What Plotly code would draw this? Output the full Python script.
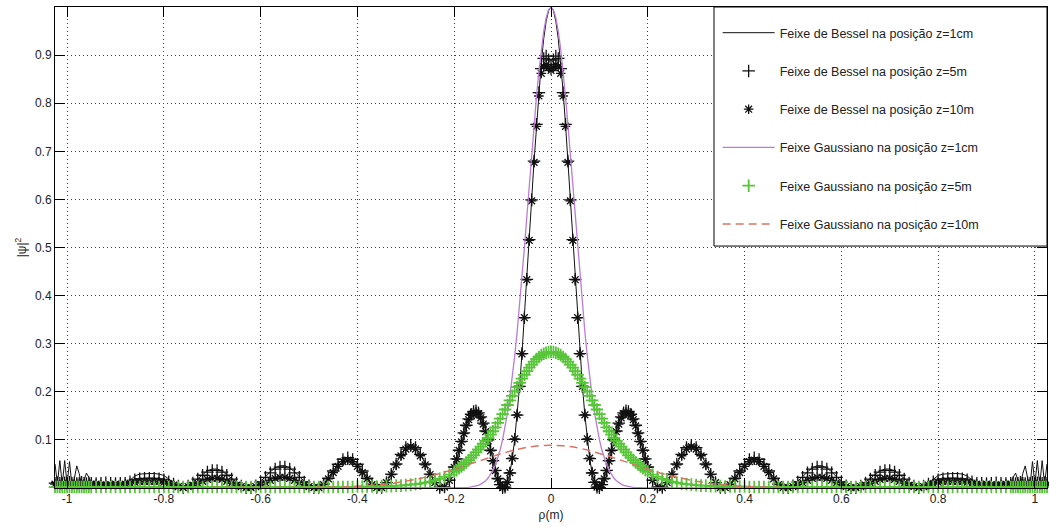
import numpy as np
import plotly.graph_objects as go

# ---------------- sampling positions rho (m) ----------------
_half = np.round(np.concatenate([np.arange(0, 0.2001, 0.005),
                                 np.arange(0.21, 0.9401, 0.01),
                                 np.arange(0.95, 1.0251, 0.005)]), 3)
RHO = np.concatenate([-_half[:0:-1], _half])

_vh = np.round(np.concatenate([np.arange(0, 0.2001, 0.005), [0.3, 0.6, 1.025]]), 3)
RHO_V = np.concatenate([-_vh[:0:-1], _vh])

_dh = np.round(np.concatenate([np.arange(0, 0.5001, 0.025), [0.6, 0.7, 0.8, 0.9, 1.025]]), 3)
RHO_D = np.concatenate([-_dh[:0:-1], _dh])

# ---------------- values ----------------
BESSEL_Z1CM = [
    0.050, 0.008, 0.057, 0.006, 0.057, 0.008, 0.055, 0.005, 0.020, 0.046, 0.030, 0.006, 0.016, 0.031, 0.022, 0.010,
    0.0080, 0.0060, 0.0050, 0.0060,
    0.0070, 0.0060, 0.0080, 0.0160, 0.0250, 0.0290, 0.0300, 0.0300, 0.0300, 0.0290,
    0.0260, 0.0190, 0.0100, 0.0030, 0.0005, 0.0044, 0.0113, 0.0200, 0.0287, 0.0356,
    0.0395, 0.0395, 0.0356, 0.0287, 0.0200, 0.0113, 0.0044, 0.0005, 0.0006, 0.0051,
    0.0133, 0.0235, 0.0337, 0.0419, 0.0464, 0.0464, 0.0419, 0.0337, 0.0235, 0.0133,
    0.0051, 0.0006, 0.0009, 0.0080, 0.0207, 0.0359, 0.0502, 0.0603, 0.0640, 0.0603,
    0.0502, 0.0359, 0.0207, 0.0080, 0.0009, 0.0013, 0.0113, 0.0290, 0.0504, 0.0706,
    0.0848, 0.0900, 0.0848, 0.0706, 0.0504, 0.0290, 0.0113, 0.0013, 0.0020, 0.0166,
    0.0440, 0.0610, 0.0792, 0.0977, 0.1157, 0.1318, 0.1450, 0.1549, 0.1607, 0.1621,
    0.1579, 0.1492, 0.1362, 0.1196, 0.1000, 0.0785, 0.0569, 0.0368, 0.0197, 0.0070,
    0.0005, 0.0017, 0.0116, 0.0312, 0.0610, 0.1012, 0.1516, 0.2113, 0.2793, 0.3541,
    0.4337, 0.5162, 0.5990, 0.6797, 0.7559, 0.8252, 0.8853, 0.9342, 0.9703, 0.9925,
    1.000,
    0.9925, 0.9703, 0.9342, 0.8853, 0.8252, 0.7559, 0.6797, 0.5990, 0.5162,
    0.4337, 0.3541, 0.2793, 0.2113, 0.1516, 0.1012, 0.0610, 0.0312, 0.0116, 0.0017,
    0.0005, 0.0070, 0.0197, 0.0368, 0.0569, 0.0785, 0.1000, 0.1196, 0.1362, 0.1492,
    0.1579, 0.1621, 0.1607, 0.1549, 0.1450, 0.1318, 0.1157, 0.0977, 0.0792, 0.0610,
    0.0440,
    0.0166, 0.0020, 0.0013, 0.0113, 0.0290, 0.0504, 0.0706, 0.0848, 0.0900, 0.0848,
    0.0706, 0.0504, 0.0290, 0.0113, 0.0013, 0.0009, 0.0080, 0.0207, 0.0359, 0.0502,
    0.0603, 0.0640, 0.0603, 0.0502, 0.0359, 0.0207, 0.0080, 0.0009, 0.0006, 0.0051,
    0.0133, 0.0235, 0.0337, 0.0419, 0.0464, 0.0464, 0.0419, 0.0337, 0.0235, 0.0133,
    0.0051, 0.0006, 0.0005, 0.0044, 0.0113, 0.0200, 0.0287, 0.0356, 0.0395, 0.0395,
    0.0356, 0.0287, 0.0200, 0.0113, 0.0044, 0.0005, 0.0030, 0.0100, 0.0190, 0.0260,
    0.0290, 0.0300, 0.0300, 0.0300, 0.0290, 0.0250, 0.0160, 0.0080, 0.0060, 0.0070,
    0.0060, 0.0050, 0.0060, 0.0080,
    0.010, 0.022, 0.031, 0.016, 0.006, 0.030, 0.046, 0.020, 0.005, 0.055, 0.008, 0.057, 0.006, 0.057, 0.008, 0.050,
]

BESSEL_Z5M = [
    0.010, 0.011, 0.010, 0.009, 0.011, 0.010, 0.012, 0.010, 0.011, 0.009, 0.010, 0.012, 0.010, 0.009, 0.011, 0.010,
    0.0090, 0.0100, 0.0110, 0.0100,
    0.0090, 0.0100, 0.0100, 0.0130, 0.0170, 0.0190, 0.0200, 0.0200, 0.0200, 0.0190,
    0.0170, 0.0130, 0.0080, 0.0040, 0.0005, 0.0040, 0.0105, 0.0185, 0.0265, 0.0330,
    0.0365, 0.0365, 0.0330, 0.0265, 0.0185, 0.0105, 0.0040, 0.0005, 0.0006, 0.0048,
    0.0125, 0.0220, 0.0315, 0.0392, 0.0434, 0.0434, 0.0392, 0.0315, 0.0220, 0.0125,
    0.0048, 0.0006, 0.0009, 0.0079, 0.0203, 0.0353, 0.0494, 0.0594, 0.0630, 0.0594,
    0.0494, 0.0353, 0.0203, 0.0079, 0.0009, 0.0013, 0.0112, 0.0287, 0.0499, 0.0698,
    0.0839, 0.0890, 0.0839, 0.0698, 0.0499, 0.0287, 0.0112, 0.0013, 0.0020, 0.0164,
    0.0437, 0.0605, 0.0785, 0.0968, 0.1146, 0.1305, 0.1436, 0.1533, 0.1590, 0.1603,
    0.1563, 0.1478, 0.1350, 0.1185, 0.1000, 0.0785, 0.0569, 0.0368, 0.0197, 0.0070,
    0.0005, 0.0017, 0.0116, 0.0312, 0.0610, 0.1012, 0.1516, 0.2113, 0.2793, 0.3541,
    0.4337, 0.5162, 0.5990, 0.6797, 0.7559, 0.822, 0.872, 0.893, 0.898, 0.890,
    0.880,
    0.890, 0.898, 0.893, 0.872, 0.822, 0.7559, 0.6797, 0.5990, 0.5162,
    0.4337, 0.3541, 0.2793, 0.2113, 0.1516, 0.1012, 0.0610, 0.0312, 0.0116, 0.0017,
    0.0005, 0.0070, 0.0197, 0.0368, 0.0569, 0.0785, 0.1000, 0.1185, 0.1350, 0.1478,
    0.1563, 0.1603, 0.1590, 0.1533, 0.1436, 0.1305, 0.1146, 0.0968, 0.0785, 0.0605,
    0.0437,
    0.0164, 0.0020, 0.0013, 0.0112, 0.0287, 0.0499, 0.0698, 0.0839, 0.0890, 0.0839,
    0.0698, 0.0499, 0.0287, 0.0112, 0.0013, 0.0009, 0.0079, 0.0203, 0.0353, 0.0494,
    0.0594, 0.0630, 0.0594, 0.0494, 0.0353, 0.0203, 0.0079, 0.0009, 0.0006, 0.0048,
    0.0125, 0.0220, 0.0315, 0.0392, 0.0434, 0.0434, 0.0392, 0.0315, 0.0220, 0.0125,
    0.0048, 0.0006, 0.0005, 0.0040, 0.0105, 0.0185, 0.0265, 0.0330, 0.0365, 0.0365,
    0.0330, 0.0265, 0.0185, 0.0105, 0.0040, 0.0005, 0.0040, 0.0080, 0.0130, 0.0170,
    0.0190, 0.0200, 0.0200, 0.0200, 0.0190, 0.0170, 0.0130, 0.0100, 0.0100, 0.0090,
    0.0100, 0.0110, 0.0100, 0.0090,
    0.010, 0.011, 0.009, 0.010, 0.012, 0.010, 0.009, 0.011, 0.010, 0.012, 0.010, 0.011, 0.009, 0.010, 0.011, 0.010,
]

BESSEL_Z10M = [
    0.008, 0.008, 0.007, 0.009, 0.008, 0.007, 0.009, 0.008, 0.007, 0.009, 0.008, 0.007, 0.008, 0.009, 0.007, 0.008,
    0.008, 0.007, 0.006, 0.007,
    0.008, 0.007, 0.008, 0.010, 0.012, 0.013, 0.014, 0.014, 0.014, 0.013,
    0.012, 0.009, 0.006, 0.003, 0.001, 0.003, 0.006, 0.010, 0.014, 0.018,
    0.020, 0.020, 0.018, 0.014, 0.010, 0.006, 0.003, 0.001, 0.001, 0.003,
    0.007, 0.011, 0.016, 0.020, 0.022, 0.022, 0.020, 0.016, 0.011, 0.007,
    0.003, 0.001, 0.001, 0.007, 0.019, 0.032, 0.045, 0.055, 0.058, 0.055,
    0.045, 0.032, 0.019, 0.007, 0.001, 0.001, 0.011, 0.028, 0.048, 0.067,
    0.081, 0.086, 0.081, 0.067, 0.048, 0.028, 0.011, 0.001, 0.002, 0.016,
    0.043, 0.060, 0.078, 0.096, 0.113, 0.129, 0.142, 0.151, 0.157, 0.158,
    0.154, 0.146, 0.133, 0.117, 0.098, 0.077, 0.056, 0.036, 0.019, 0.007,
    0.001, 0.002, 0.012, 0.032, 0.062, 0.102, 0.152, 0.211, 0.279, 0.354,
    0.433, 0.515, 0.597, 0.677, 0.752, 0.815, 0.862, 0.876, 0.880, 0.874,
    0.868,
    0.874, 0.880, 0.876, 0.862, 0.815, 0.752, 0.677, 0.597, 0.515,
    0.433, 0.354, 0.279, 0.211, 0.152, 0.102, 0.062, 0.032, 0.012, 0.002,
    0.001, 0.007, 0.019, 0.036, 0.056, 0.077, 0.098, 0.117, 0.133, 0.146,
    0.154, 0.158, 0.157, 0.151, 0.142, 0.129, 0.113, 0.096, 0.078, 0.060,
    0.043,
    0.016, 0.002, 0.001, 0.011, 0.028, 0.048, 0.067, 0.081, 0.086, 0.081,
    0.067, 0.048, 0.028, 0.011, 0.001, 0.001, 0.007, 0.019, 0.032, 0.045,
    0.055, 0.058, 0.055, 0.045, 0.032, 0.019, 0.007, 0.001, 0.001, 0.003,
    0.007, 0.011, 0.016, 0.020, 0.022, 0.022, 0.020, 0.016, 0.011, 0.007,
    0.003, 0.001, 0.001, 0.003, 0.006, 0.010, 0.014, 0.018, 0.020, 0.020,
    0.018, 0.014, 0.010, 0.006, 0.003, 0.001, 0.003, 0.006, 0.009, 0.012,
    0.013, 0.014, 0.014, 0.014, 0.013, 0.012, 0.010, 0.008, 0.007, 0.008,
    0.007, 0.006, 0.007, 0.008,
    0.008, 0.007, 0.009, 0.008, 0.007, 0.008, 0.009, 0.007, 0.008, 0.009, 0.007, 0.008, 0.009, 0.007, 0.008, 0.008,
]

GAUSS_Z5M = [
    0.002, 0.002, 0.002, 0.002, 0.002, 0.002, 0.002, 0.002, 0.002, 0.002,
    0.002, 0.002, 0.002, 0.002, 0.002, 0.002, 0.002, 0.002, 0.002, 0.002,
    0.002, 0.002, 0.002, 0.002, 0.002, 0.002, 0.002, 0.002, 0.002, 0.002,
    0.002, 0.002, 0.002, 0.002, 0.002, 0.002, 0.002, 0.002, 0.002, 0.002,
    0.002, 0.002, 0.002, 0.002, 0.002, 0.002, 0.002, 0.002, 0.002, 0.002,
    0.002, 0.002, 0.002, 0.002, 0.002, 0.002, 0.002, 0.002, 0.002, 0.002,
    0.002, 0.002, 0.002, 0.002, 0.002, 0.002, 0.002, 0.002, 0.002, 0.002,
    0.003, 0.003, 0.003, 0.003, 0.003, 0.004, 0.004, 0.004, 0.005, 0.005,
    0.006, 0.007, 0.008, 0.009, 0.011, 0.013, 0.016, 0.019, 0.023, 0.028,
    0.034, 0.037, 0.041, 0.045, 0.049, 0.053, 0.058, 0.063, 0.068, 0.074,
    0.080, 0.086, 0.092, 0.098, 0.104, 0.111, 0.118, 0.1262, 0.1352, 0.1444,
    0.1537, 0.1632, 0.1726, 0.1821, 0.1915, 0.2008, 0.2098, 0.2187, 0.2272, 0.2353,
    0.2430, 0.2501, 0.2567, 0.2626, 0.2679, 0.2724, 0.2762, 0.2791, 0.2813, 0.2826,
    0.283,
    0.2826, 0.2813, 0.2791, 0.2762, 0.2724, 0.2679, 0.2626, 0.2567, 0.2501, 0.2430,
    0.2353, 0.2272, 0.2187, 0.2098, 0.2008, 0.1915, 0.1821, 0.1726, 0.1632, 0.1537,
    0.1444, 0.1352, 0.1262, 0.118, 0.111, 0.104, 0.098, 0.092, 0.086, 0.080,
    0.074, 0.068, 0.063, 0.058, 0.053, 0.049, 0.045, 0.041, 0.037, 0.034,
    0.028, 0.023, 0.019, 0.016, 0.013, 0.011, 0.009, 0.008, 0.007, 0.006,
    0.005, 0.005, 0.004, 0.004, 0.004, 0.003, 0.003, 0.003, 0.003, 0.003,
    0.002, 0.002, 0.002, 0.002, 0.002, 0.002, 0.002, 0.002, 0.002, 0.002,
    0.002, 0.002, 0.002, 0.002, 0.002, 0.002, 0.002, 0.002, 0.002, 0.002,
    0.002, 0.002, 0.002, 0.002, 0.002, 0.002, 0.002, 0.002, 0.002, 0.002,
    0.002, 0.002, 0.002, 0.002, 0.002, 0.002, 0.002, 0.002, 0.002, 0.002,
    0.002, 0.002, 0.002, 0.002, 0.002, 0.002, 0.002, 0.002, 0.002, 0.002,
    0.002, 0.002, 0.002, 0.002, 0.002, 0.002, 0.002, 0.002, 0.002, 0.002,
    0.002, 0.002, 0.002, 0.002, 0.002, 0.002, 0.002, 0.002, 0.002, 0.002,
]

GAUSS_Z1CM = [
    0.0, 0.0, 0.0,
    0.0004, 0.0005, 0.0006, 0.0008, 0.0010, 0.0012, 0.0015, 0.0022, 0.0030, 0.0040,
    0.0057, 0.0080, 0.0111, 0.0152, 0.0207, 0.0277, 0.0367, 0.0480, 0.0622, 0.0796,
    0.1007, 0.1260, 0.1557, 0.1904, 0.2301, 0.2749, 0.3247, 0.3791, 0.4376, 0.4994,
    0.5633, 0.6282, 0.6926, 0.7549, 0.8133, 0.8663, 0.9123, 0.9497, 0.9773, 0.9943,
    1.0,
    0.9943, 0.9773, 0.9497, 0.9123, 0.8663, 0.8133, 0.7549, 0.6926, 0.6282, 0.5633,
    0.4994, 0.4376, 0.3791, 0.3247, 0.2749, 0.2301, 0.1904, 0.1557, 0.1260, 0.1007,
    0.0796, 0.0622, 0.0480, 0.0367, 0.0277, 0.0207, 0.0152, 0.0111, 0.0080, 0.0057,
    0.0040, 0.0030, 0.0022, 0.0015, 0.0012, 0.0010, 0.0008, 0.0006, 0.0005, 0.0004,
    0.0, 0.0, 0.0,
]

GAUSS_Z10M = [
    0.0, 0.0, 0.0, 0.0001, 0.0002, 0.0005, 0.0008, 0.0014, 0.0021, 0.0033, 0.0049, 0.0071, 0.0100,
    0.0139, 0.0187, 0.0245, 0.0313, 0.0389, 0.0473, 0.0559, 0.0644, 0.0724, 0.0792, 0.0845, 0.0879,
    0.0890,
    0.0879, 0.0845, 0.0792, 0.0724, 0.0644, 0.0559, 0.0473, 0.0389, 0.0313, 0.0245, 0.0187, 0.0139,
    0.0100, 0.0071, 0.0049, 0.0033, 0.0021, 0.0014, 0.0008, 0.0005, 0.0002, 0.0001, 0.0, 0.0, 0.0,
]

X_TICKS = [-1, -0.8, -0.6, -0.4, -0.2, 0, 0.2, 0.4, 0.6, 0.8, 1]
X_TICK_LABELS = ["-1", "-0.8", "-0.6", "-0.4", "-0.2", "0", "0.2", "0.4", "0.6", "0.8", "1"]
Y_TICKS = [0.1, 0.2, 0.3, 0.4, 0.5, 0.6, 0.7, 0.8, 0.9]
Y_TICK_LABELS = ["0.1", "0.2", "0.3", "0.4", "0.5", "0.6", "0.7", "0.8", "0.9"]

NAMES = [
    "Feixe de Bessel na posição z=1cm",
    "Feixe de Bessel na posição z=5m",
    "Feixe de Bessel na posição z=10m",
    "Feixe Gaussiano na posição z=1cm",
    "Feixe Gaussiano na posição z=5m",
    "Feixe Gaussiano na posição z=10m",
]

for arr in (BESSEL_Z1CM, BESSEL_Z5M, BESSEL_Z10M, GAUSS_Z5M):
    assert len(arr) == len(RHO), (len(arr), len(RHO))
assert len(GAUSS_Z1CM) == len(RHO_V), (len(GAUSS_Z1CM), len(RHO_V))
assert len(GAUSS_Z10M) == len(RHO_D), (len(GAUSS_Z10M), len(RHO_D))

BLACK = "#111111"
VIOLET = "rgb(188,124,214)"
GREEN = "rgb(88,196,58)"
SALMON = "rgb(218,116,102)"

fig = go.Figure()
fig.add_trace(go.Scatter(x=RHO, y=BESSEL_Z1CM, mode="lines", name=NAMES[0], legendgroup="g1",
                         line=dict(color=BLACK, width=1)))
fig.add_trace(go.Scatter(x=RHO, y=BESSEL_Z5M, mode="markers", name=NAMES[1], legendgroup="g2",
                         cliponaxis=False,
                         marker=dict(symbol="cross-thin", size=9, color=BLACK,
                                     line=dict(color=BLACK, width=1.3))))
fig.add_trace(go.Scatter(x=RHO, y=BESSEL_Z10M, mode="markers", name=NAMES[2], legendgroup="g3",
                         cliponaxis=False,
                         marker=dict(symbol="asterisk", size=8, color=BLACK,
                                     line=dict(color=BLACK, width=1.3))))
fig.add_trace(go.Scatter(x=RHO_V, y=GAUSS_Z1CM, mode="lines", name=NAMES[3], legendgroup="g4",
                         line=dict(color=VIOLET, width=1.3)))
fig.add_trace(go.Scatter(x=RHO, y=GAUSS_Z5M, mode="markers", name=NAMES[4], legendgroup="g5",
                         cliponaxis=False,
                         marker=dict(symbol="cross-thin", size=9, color=GREEN,
                                     line=dict(color=GREEN, width=1.8))))
fig.add_trace(go.Scatter(x=RHO_D, y=GAUSS_Z10M, mode="lines", name=NAMES[5], legendgroup="g6",
                         line=dict(color=SALMON, width=1.5, dash="8px,5px")))

axis_common = dict(
    ticks="inside", ticklen=10, tickcolor="black", tickwidth=1,
    showline=True, linecolor="black", linewidth=1, mirror="ticks",
    showgrid=True, gridcolor="#404040", gridwidth=1, griddash="1px,3px",
    zeroline=False, automargin=False,
    tickfont=dict(size=12, color="#222222"),
)

fig.update_layout(
    width=1049, height=527,
    margin=dict(l=55, r=2, t=7, b=39),
    paper_bgcolor="white", plot_bgcolor="white",
    font=dict(family="Liberation Sans, Arial, sans-serif", size=12, color="#222222"),
    xaxis=dict(range=[-1.025, 1.025], tickvals=X_TICKS, ticktext=X_TICK_LABELS,
               title=dict(text="ρ(m)", font=dict(size=12), standoff=5), **axis_common),
    yaxis=dict(range=[0, 1], tickvals=Y_TICKS, ticktext=Y_TICK_LABELS,
               title=dict(text="|ψ|<sup>2</sup>", font=dict(size=12), standoff=5), **axis_common),
    showlegend=True,
    legend=dict(x=0.668, y=0.977, xanchor="left", yanchor="top",
                bgcolor="rgba(0,0,0,0)", borderwidth=0,
                tracegroupgap=19, itemwidth=52,
                font=dict(size=12.5, color="#222222")),
    shapes=[dict(type="rect", xref="paper", yref="paper", x0=0.6643, x1=1.0, y0=0.503, y1=1.0,
                 fillcolor="white", line=dict(color="black", width=1), layer="above")],
)

fig.write_html("out.html",
               config={"displayModeBar": False, "staticPlot": True},
               post_script="document.body.style.margin='0';document.body.style.padding='0';")
